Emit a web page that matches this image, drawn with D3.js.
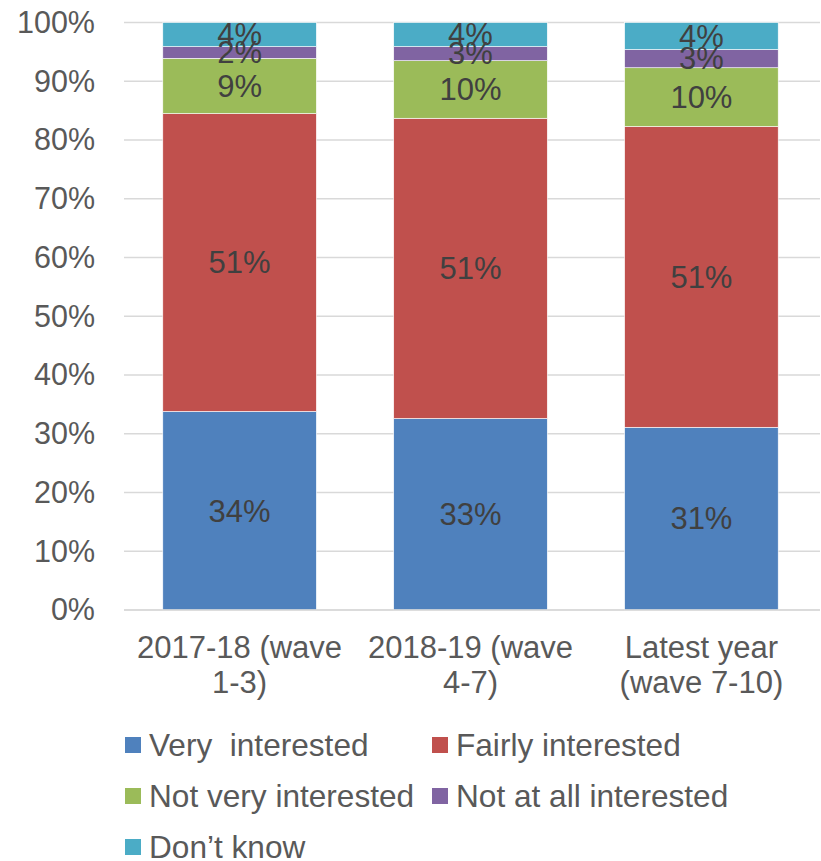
<!DOCTYPE html>
<html><head><meta charset="utf-8">
<script src="https://cdn.jsdelivr.net/npm/d3@7"></script>
<style>body{margin:0;background:#fff}svg{display:block}</style>
</head><body>
<script>
const categories = [["2017-18 (wave","1-3)"],["2018-19 (wave","4-7)"],["Latest year","(wave 7-10)"]];
const seriesNames = ["Very  interested","Fairly interested","Not very interested","Not at all interested","Don\u2019t know"];
const veryInterested = [33.8, 32.6, 31.1];
const fairlyInterested = [50.7, 51.1, 51.2];
const notVeryInterested = [9.4, 9.8, 10.0];
const notAtAllInterested = [2.0, 2.4, 3.1];
const dontKnow = [4.1, 4.1, 4.6];
const labelsVery = ["34%","33%","31%"];
const labelsFairly = ["51%","51%","51%"];
const labelsNotVery = ["9%","10%","10%"];
const labelsNotAtAll = ["2%","3%","3%"];
const labelsDK = ["4%","4%","4%"];
const yTicks = [0,10,20,30,40,50,60,70,80,90,100];
const colors = ["#4F81BD","#C0504D","#9BBB59","#8064A2","#4BACC6"];

const series = [veryInterested, fairlyInterested, notVeryInterested, notAtAllInterested, dontKnow];
const labels = [labelsVery, labelsFairly, labelsNotVery, labelsNotAtAll, labelsDK];

const W = 821, H = 861;
const svg = d3.select("body").append("svg").attr("width", W).attr("height", H);
const font = "Liberation Sans, Arial, sans-serif";

const y = d3.scaleLinear().domain([0,100]).range([610, 22.5]);
const x = d3.scaleBand().domain(d3.range(categories.length)).range([124, 817]).paddingInner(0.335).paddingOuter(0.168);

// gridlines
svg.append("g").selectAll("line").data(yTicks).join("line")
  .attr("x1", 124).attr("x2", 820)
  .attr("y1", d => y(d)).attr("y2", d => y(d))
  .attr("stroke", "#D9D9D9").attr("stroke-width", 1.3);

// y axis labels
const yAxis = d3.axisLeft(y).tickValues(yTicks).tickFormat(d => d + "%").tickSize(0).tickPadding(0);
const ya = svg.append("g").attr("transform", "translate(95,0)").call(yAxis);
ya.select(".domain").remove();
ya.selectAll("text").attr("font-family", font).attr("font-size", 30.5).attr("fill", "#595959");

// stacks
const rows = categories.map((c, i) => {
  const o = {i};
  series.forEach((s, k) => o["s" + k] = s[i]);
  return o;
});
const stack = d3.stack().keys(series.map((s, k) => "s" + k));
const stacked = stack(rows);

const g = svg.append("g");
stacked.forEach((layer, k) => {
  g.append("g").selectAll("rect").data(layer).join("rect")
    .attr("x", d => x(d.data.i))
    .attr("width", x.bandwidth())
    .attr("y", d => y(d[1]))
    .attr("height", d => y(d[0]) - y(d[1]))
    .attr("fill", colors[k])
    .attr("stroke", "#fff").attr("stroke-width", 0.6);
});
stacked.forEach((layer, k) => {
  g.append("g").selectAll("text").data(layer).join("text")
    .attr("x", d => x(d.data.i) + x.bandwidth() / 2)
    .attr("y", d => (y(d[0]) + y(d[1])) / 2)
    .attr("dy", "0.35em")
    .attr("text-anchor", "middle")
    .attr("font-family", font).attr("font-size", 31).attr("fill", "#404040")
    .text((d, j) => labels[k][j]);
});

// axis baseline
svg.append("line").attr("x1", 124).attr("x2", 820).attr("y1", y(0)).attr("y2", y(0))
  .attr("stroke", "#D9D9D9").attr("stroke-width", 1.3);

// category labels
const cl = svg.append("g").selectAll("text").data(categories).join("text")
  .attr("text-anchor", "middle")
  .attr("font-family", font).attr("font-size", 31).attr("fill", "#595959");
cl.each(function(d, i) {
  const t = d3.select(this);
  d.forEach((line, j) => {
    t.append("tspan").attr("x", x(i) + x.bandwidth() / 2).attr("y", 658 + j * 35).text(line);
  });
});

// legend
const legendPos = [[125,745],[432,745],[125,796],[432,796],[125,847]];
const lg = svg.append("g").selectAll("g").data(seriesNames).join("g")
  .attr("transform", (d, k) => `translate(${legendPos[k][0]},${legendPos[k][1]})`);
lg.append("rect").attr("x", 0).attr("y", -8).attr("width", 16).attr("height", 16)
  .attr("fill", (d, k) => colors[k]);
lg.append("text").attr("x", 24).attr("y", 0).attr("dy", "0.35em")
  .attr("font-family", font).attr("font-size", 31.6).attr("fill", "#595959")
  .style("white-space", "pre")
  .text(d => d);
</script>
</body></html>
